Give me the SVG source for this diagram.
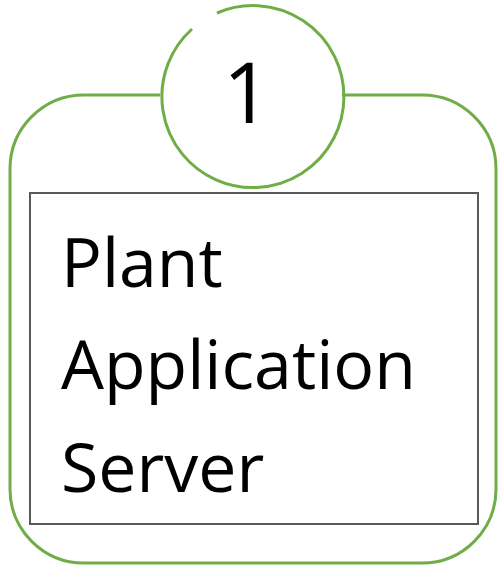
<svg xmlns="http://www.w3.org/2000/svg" width="499" height="567" viewBox="0 0 499 567">
<style>
.green{fill:none;stroke:#70AD47;stroke-width:3}
.box{fill:#fff;stroke:#595959;stroke-width:2}
.t{font-family:"Open Sans","Noto Sans","Liberation Sans",sans-serif;fill:#000}
</style>
<rect width="499" height="567" fill="#fff"/>
<g id="container">
<rect class="green" x="10" y="95" width="486" height="468" rx="74" ry="74" fill="#fff"/>
</g>
<g id="badge">
<circle cx="251" cy="98" r="91" fill="#fff" stroke="none"/>
<path class="green" d="M 217 13 A 91 91 0 1 1 192 29"/>
<text class="t" x="247" y="123" font-size="84" text-anchor="middle">1</text>
</g>
<g id="server">
<rect class="box" x="30" y="193" width="448" height="331"/>
<text class="t" x="61" y="287" font-size="68">Plant</text>
<text class="t" x="61" y="389" font-size="68">Application</text>
<text class="t" x="61" y="492" font-size="68">Server</text>
</g>
<g id="connectors"></g>
</svg>
